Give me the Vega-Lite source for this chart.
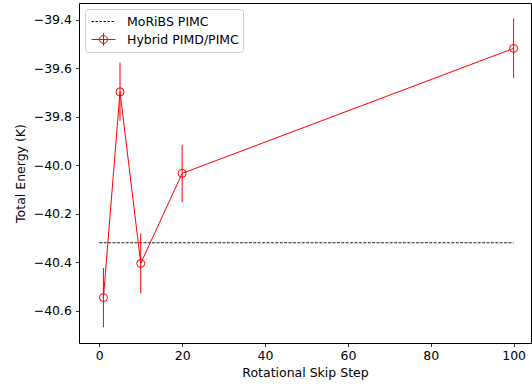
{
  "$schema": "https://vega.github.io/schema/vega-lite/v6.json",
  "width": 452,
  "height": 340,
  "autosize": {"type": "none"},
  "padding": {"left": 79, "top": 3, "right": 1, "bottom": 46},
  "background": "white",
  "datasets": {
    "hybrid": [
      {"step": 1, "E": -40.545, "err": 0.122, "series": "Hybrid PIMD/PIMC"},
      {"step": 5, "E": -39.697, "err": 0.12, "series": "Hybrid PIMD/PIMC"},
      {"step": 10, "E": -40.404, "err": 0.123, "series": "Hybrid PIMD/PIMC"},
      {"step": 20, "E": -40.033, "err": 0.118, "series": "Hybrid PIMD/PIMC"},
      {"step": 100, "E": -39.518, "err": 0.123, "series": "Hybrid PIMD/PIMC"}
    ],
    "moribs": [
      {"step": 0, "step_end": 100, "E": -40.319, "series": "MoRiBS PIMC"}
    ]
  },
  "config": {
    "font": "DejaVu Sans",
    "view": {"stroke": "black", "strokeWidth": 1},
    "axis": {
      "grid": false,
      "domain": false,
      "tickColor": "black",
      "tickSize": 3.5,
      "tickWidth": 0.8,
      "labelFont": "DejaVu Sans",
      "labelFontSize": 12.5,
      "labelColor": "black",
      "titleFont": "DejaVu Sans",
      "titleFontSize": 12.5,
      "titleFontWeight": "normal",
      "titleColor": "black"
    }
  },
  "layer": [
    {
      "data": {"name": "moribs"},
      "mark": {"type": "rule", "strokeDash": [3, 1.4], "strokeWidth": 0.9},
      "encoding": {
        "x": {"field": "step", "type": "quantitative", "title": "Rotational Skip Step"},
        "x2": {"field": "step_end"},
        "y": {"field": "E", "type": "quantitative", "title": "Total Energy (K)"},
        "color": {
          "field": "series",
          "type": "nominal",
          "scale": {"domain": ["MoRiBS PIMC", "Hybrid PIMD/PIMC"], "range": ["black", "red"]},
          "legend": {
            "title": null,
            "orient": "top-left",
            "offset": 6,
            "padding": 4,
            "symbolOffset": 6,
            "symbolSize": 256,
            "symbolStrokeWidth": 1,
            "symbolType": "stroke",
            "labelOffset": 15,
            "rowPadding": 3,
            "labelFont": "DejaVu Sans",
            "labelFontSize": 12.5,
            "labelColor": "black",
            "strokeColor": "#cccccc",
            "cornerRadius": 3,
            "fillColor": "rgba(255,255,255,0.8)",
            "encode": {
              "symbols": {
                "update": {
                  "shape": {"signal": "datum.value === 'MoRiBS PIMC' ? 'M-1.5,0H-1.2M-1,0H-0.7M-0.5,0H-0.2M0,0H0.3M0.5,0H0.8M1,0H1.3' : 'M-1.5,0H1.5M0,-0.8V0.8M0.5,0A0.5,0.5 0 1 1 -0.5,0A0.5,0.5 0 1 1 0.5,0'"},
                  "fill": {"value": "transparent"}
                }
              }
            }
          }
        }
      }
    },
    {
      "data": {"name": "hybrid"},
      "mark": {"type": "errorbar", "color": "red", "thickness": 1},
      "encoding": {
        "x": {"field": "step", "type": "quantitative", "title": "Rotational Skip Step"},
        "y": {"field": "E", "type": "quantitative", "title": "Total Energy (K)"},
        "yError": {"field": "err"}
      }
    },
    {
      "data": {"name": "hybrid"},
      "mark": {"type": "line", "strokeWidth": 1},
      "encoding": {
        "x": {"field": "step", "type": "quantitative", "title": "Rotational Skip Step"},
        "y": {"field": "E", "type": "quantitative", "title": "Total Energy (K)"},
        "color": {"field": "series", "type": "nominal"}
      }
    },
    {
      "data": {"name": "hybrid"},
      "mark": {"type": "point", "shape": "circle", "filled": false, "color": "red", "size": 64, "strokeWidth": 1, "opacity": 1},
      "encoding": {
        "x": {
          "field": "step",
          "type": "quantitative",
          "title": "Rotational Skip Step",
          "scale": {"domain": [-4.9, 104.2], "nice": false, "zero": false},
          "axis": {"values": [0, 20, 40, 60, 80, 100], "labelPadding": 3, "titlePadding": 4}
        },
        "y": {
          "field": "E",
          "type": "quantitative",
          "title": "Total Energy (K)",
          "scale": {"domain": [-40.732, -39.331], "nice": false, "zero": false},
          "axis": {"values": [-40.6, -40.4, -40.2, -40.0, -39.8, -39.6, -39.4], "format": ".1f", "labelPadding": 4, "titlePadding": 6}
        }
      }
    }
  ]
}
